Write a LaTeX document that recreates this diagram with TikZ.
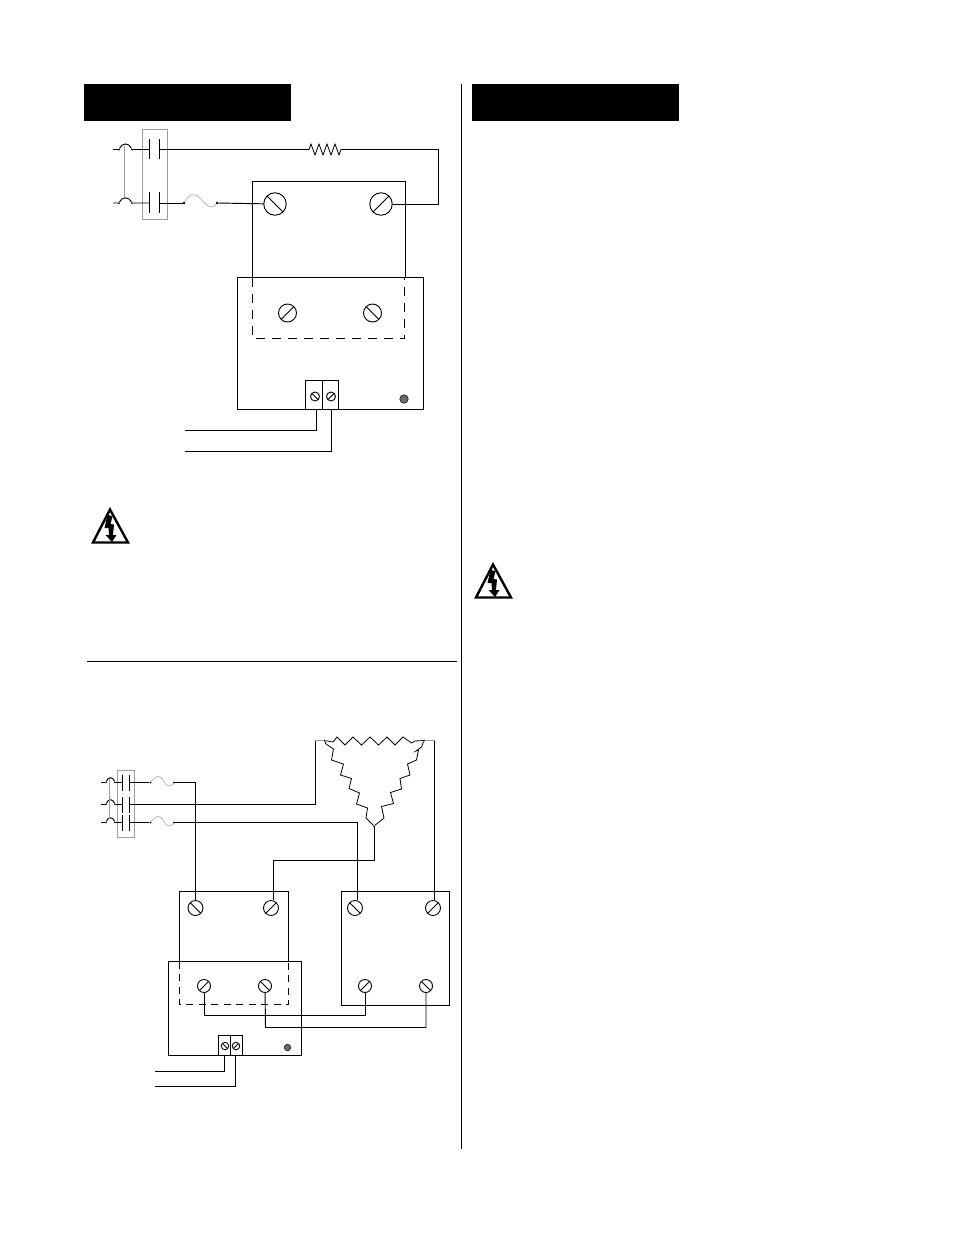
\documentclass[tikz,border=0pt]{standalone}
\usetikzlibrary{calc}
\definecolor{boxgray}{gray}{0.62}
\definecolor{fusegray}{gray}{0.72}
\definecolor{ledgray}{gray}{0.42}
\tikzset{
  wire/.style={draw=black,line width=0.95pt},
  thin wire/.style={draw=black,line width=0.8pt,line join=miter},
  ganged/.style={draw=boxgray,line width=0.9pt},
  fuse line/.style={draw=fusegray,line width=0.8pt},
  banner/.style={fill=black,draw=none},
  screwbase/.style={circle,draw=black,line width=0.9pt,inner sep=0pt,fill=white},
  screwf/.style={screwbase,minimum size=#1,path picture={
     \draw[black,line width=1pt] (path picture bounding box.south west)--(path picture bounding box.north east);}},
  screwb/.style={screwbase,minimum size=#1,path picture={
     \draw[black,line width=1pt] (path picture bounding box.north west)--(path picture bounding box.south east);}},
  dotnode/.style={circle,fill=black,inner sep=0pt,minimum size=2.6pt},
  led/.style={circle,draw=black,line width=0.5pt,fill=ledgray,inner sep=0pt,minimum size=#1},
}
\begin{document}
\begin{tikzpicture}[x=1pt,y=-1pt]
\useasboundingbox[fill=white] (0,0) rectangle (954,1235);

% banners and rules
\fill[banner] (84,84) rectangle (291,121);
\fill[banner] (472,84) rectangle (679,121);
\coordinate (vtop) at (461.5,84); \coordinate (vbot) at (461.5,1149);
\draw[wire] (vtop) -- (vbot);
\coordinate (hl) at (87,661); \coordinate (hr) at (457,661);
\draw[wire] (hl) -- (hr);

%%% TOP DIAGRAM
\draw[ganged] (142.5,129.5) rectangle (167.5,219.5);
% L1
\coordinate (a1) at (113,149.5); \node[dotnode,minimum size=2pt] (a2) at (119,149.5) {};
\node[dotnode,minimum size=2pt] (a3) at (132,149.5) {};
\coordinate (p1l) at (149.5,149.5); \coordinate (p1r) at (159.5,149.5);
\draw[wire] (a1)--(a2) (a3)--(p1l) (p1r)--(306,149.5) coordinate (r1);
\draw[wire] (a2) .. controls (122,142.5) and (129,142.5) .. (a3);
\draw[wire] (p1l)+(0,-11)--+(0,9.5) (p1r)+(0,-11)--+(0,9.5);
% L2
\coordinate (b1) at (113,203); \node[dotnode,minimum size=2pt] (b2) at (119,203) {};
\node[dotnode,minimum size=2pt] (b3) at (132,203) {};
\coordinate (p2l) at (149.5,203); \coordinate (p2r) at (159.5,203);
\draw[wire] (b1)--(b2) (b3)--(p2l) (b2) .. controls (122,196.5) and (129,196.5) .. (b3);
\draw[wire] (p2l)+(0,-11)--+(0,9.5) (p2r)+(0,-11)--+(0,9.5);
\draw[ganged] (124.5,146) -- (124.5,198);
% fuse
\node[dotnode] (f1) at (184,203) {}; \node[dotnode] (f2) at (217,203) {};
\draw[wire] (p2r)--(f1);
\draw[fuse line] (f1) .. controls (190,193) and (195,193) .. (200,198) .. controls (205,204) and (211,211) .. (f2);
% resistor
\coordinate (r2) at (343,149.5);
\draw[thin wire] (r1)--(309,149.5)--(311,144)--(315,155)--(319,144)--(323,155)--(327,144)--(331,155)--(335,144)--(339,155)--(341,149.5)--(r2);
% upper box
\draw[wire] (252,277) -- (252,181.5) -- (405,181.5) -- (405,277);
\node[screwb=22.5pt] (s1) at (275,204) {};
\node[screwf=22.5pt] (s2) at (381,204) {};
\draw[wire] (f2)--(s1);
\coordinate (c1) at (438,149.5); \coordinate (c2) at (438,204);
\draw[wire] (r2)--(c1)--(c2)--(s2);
% lower box
\draw[wire] (237.5,277.5) rectangle (423.5,409);
\draw[wire,dash pattern=on 9pt off 7pt] (252.5,277.5) -- (252.5,338.5) -- (404.5,338.5) -- (404.5,277.5);
\node[screwf=18pt] (s3) at (287.5,313) {};
\node[screwb=18pt] (s4) at (372.5,313) {};
% terminal block
\draw[wire] (305.5,409) -- (305.5,380.5) -- (338.5,380.5) -- (338.5,409);
\draw[wire] (322.5,380.5) -- (322.5,409);
\node[screwb=9pt] (t1) at (315,396.5) {};
\node[screwf=9pt] (t2) at (331,396.5) {};
\node[led=8.5pt] (l1) at (404,399) {};
\coordinate (w1a) at (316,409); \coordinate (w1b) at (316,430); \coordinate (w1c) at (185,430);
\coordinate (w2a) at (331.5,409); \coordinate (w2b) at (331.5,451); \coordinate (w2c) at (185,451);
\draw[wire] (w1a)--(w1b)--(w1c);
\draw[wire] (w2a)--(w2b)--(w2c);

% warning triangles
\foreach \ox/\oy in {0/0,383/55}{
\begin{scope}[shift={(\ox,\oy)}]
  \draw[black,line width=2.4pt,line join=miter] (110,509.5) -- (128,542.5) -- (93,542.5) -- cycle;
  \fill[black] (107.5,515) -- (112.5,516) -- (110.5,524) -- (114,524.5) -- (113,535) -- (116.5,535) -- (112,542) -- (105.5,535) -- (109,535) -- (108.5,528) -- (104.5,528) -- cycle;
\end{scope}}

%%% BOTTOM DIAGRAM
\draw[ganged] (117,770.5) rectangle (134,837);
\foreach \n/\y in {A/782.5,B/804.5,C/822.5}{
  \coordinate (g\n0) at (101,\y);
  \node[dotnode,minimum size=1.8pt] (g\n1) at (106,\y) {};
  \node[dotnode,minimum size=1.8pt] (g\n2) at (115,\y) {};
  \coordinate (g\n3) at (122.5,\y);
  \coordinate (g\n4) at (129.5,\y);
  \draw[wire] (g\n0)--(g\n1) (g\n2)--(g\n3);
  \draw[wire] (g\n1) .. controls (108,\y-6) and (113,\y-6) .. (g\n2);
  \draw[wire] (g\n3)+(0,-8)--+(0,8) (g\n4)+(0,-8)--+(0,8);
}
\draw[ganged] (109.5,779) -- (109.5,819);
% fuses
\node[dotnode,minimum size=2pt] (fa1) at (150.5,782.5) {};
\node[dotnode,minimum size=2pt] (fa2) at (174,782.5) {};
\node[dotnode,minimum size=2pt] (fc1) at (150.5,822.5) {};
\node[dotnode,minimum size=2pt] (fc2) at (174,822.5) {};
\draw[wire] (gA4)--(fa1) (gC4)--(fc1);
\draw[fuse line] (fa1) .. controls (156,775) and (160,775) .. (163,780) .. controls (166,786) and (170,788) .. (fa2);
\draw[fuse line] (fc1) .. controls (156,815) and (160,815) .. (163,820) .. controls (166,826) and (170,828) .. (fc2);

% boxes
\draw[wire] (179.5,961.5) -- (179.5,891.5) -- (288.5,891.5) -- (288.5,961.5);
\draw[wire] (168.5,961.5) rectangle (301.5,1055.5);
\draw[wire,dash pattern=on 7pt off 5.5pt] (179,961.5) -- (179,1004.5) -- (288.5,1004.5) -- (288.5,961.5);
\draw[wire] (341.5,891.5) rectangle (449.5,1005.5);
% screws
\node[screwb=15pt] (u1) at (195.5,908) {};
\node[screwf=15pt] (u2) at (271,908) {};
\node[screwb=15pt] (u3) at (355,908) {};
\node[screwf=15pt] (u4) at (433,908) {};
\node[screwf=13pt] (d1) at (204,986) {};
\node[screwb=13pt] (d2) at (265,986) {};
\node[screwf=13pt] (d3) at (365,986) {};
\node[screwb=13pt] (d4) at (426,986) {};
% terminal block
\draw[wire] (218.5,1055.5) -- (218.5,1035.5) -- (242.5,1035.5) -- (242.5,1055.5);
\draw[wire] (230.5,1035.5) -- (230.5,1055.5);
\node[screwb=7.5pt] (t3) at (225,1046) {};
\node[screwf=7.5pt] (t4) at (236,1046) {};
\node[led=6.5pt] (l2) at (287.5,1047.5) {};
% delta
\node[dotnode,minimum size=2pt] (dl) at (324.5,740.5) {};
\node[dotnode,minimum size=2pt] (dr) at (424,740.5) {};
\node[dotnode,minimum size=2pt] (db) at (374,826) {};
\draw[thin wire] (dl)--(333,742)--(337,737)--(345,745)--(353,737)--(361.5,745)--(370,737)--(378.5,745)--(387,737)--(395,745)--(403,737)--(411.5,743)--(415,741)--(dr);
\draw[thin wire] (dl)--(326,744)--(333.5,749)--(331.5,760)--(343.5,764)--(340.5,775)--(351.5,778.5)--(349,788.5)--(359.5,793)--(356.5,804)--(367.5,808)--(366,818)--(db);
\draw[thin wire] (dr)--(421.5,747)--(416,751)--(418.5,750)--(416.5,760)--(407.5,764)--(410,775)--(400,778.5)--(401.5,789)--(390.5,792.5)--(393.5,803.5)--(381.5,806.5)--(384,818)--(db);
% wiring
\coordinate (n1) at (195.5,782.5);
\draw[wire] (fa2)--(n1)--(u1);
\coordinate (n2) at (315,804.5); \coordinate (n3) at (315,740.5);
\draw[wire] (gB4)--(n2)--(n3);
\coordinate (n4) at (357,822.5);
\draw[wire] (fc2)--(n4)--(n4|-u3.north);
\coordinate (n5) at (374,860.5); \coordinate (n6) at (273,860.5);
\draw[wire] (db)--(n5)--(n6)--(n6|-u2.north);
\coordinate (n7) at (434.5,740.5);
\draw[ganged] (dr)--(n7);
\draw[wire] (n7)--(n7|-u4.north);
\draw[ganged] (n3)--(dl);
\coordinate (n8) at (204,1015.5); \coordinate (n9) at (365,1015.5);
\draw[wire] (d1)--(n8)--(n9)--(d3);
\coordinate (n10) at (265.5,1027.5); \coordinate (n11) at (426,1027.5);
\draw[wire] (d2)--(n10)--(n11)--(d4);
\coordinate (x1) at (224.5,1071.5); \coordinate (x2) at (155,1071.5);
\coordinate (x3) at (235.5,1086.5); \coordinate (x4) at (155,1086.5);
\draw[wire] (224.5,1055.5)--(x1)--(x2);
\draw[wire] (235.5,1055.5)--(x3)--(x4);
\end{tikzpicture}
\end{document}
